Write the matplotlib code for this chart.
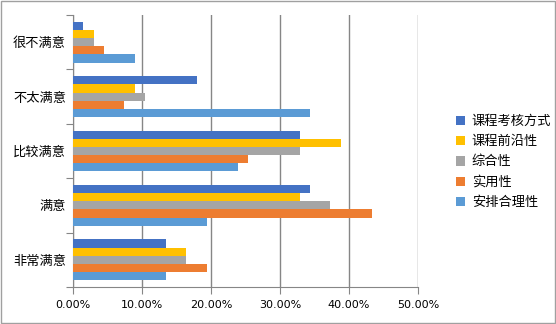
import matplotlib.pyplot as plt
from matplotlib.patches import Rectangle
from matplotlib.ticker import FuncFormatter
import numpy as np

plt.rcParams['font.family'] = ['Noto Sans CJK SC', 'DejaVu Sans']

# satisfaction levels, top to bottom
levels = ['很不满意', '不太满意', '比较满意', '满意', '非常满意']
series = ['课程考核方式', '课程前沿性', '综合性', '实用性', '安排合理性']
colors = ['#4472C4', '#FFC000', '#A5A5A5', '#ED7D31', '#5B9BD5']

# shares in percent, one list per series
kaohe = [1.49, 17.91, 32.84, 34.33, 13.43]
qianyan = [2.99, 8.96, 38.81, 32.84, 16.42]
zonghe = [2.99, 10.45, 32.84, 37.31, 16.42]
shiyong = [4.48, 7.46, 25.37, 43.28, 19.40]
anpai = [8.96, 34.33, 23.88, 19.40, 13.43]
values = [kaohe, qianyan, zonghe, shiyong, anpai]

xticks = [0, 10, 20, 30, 40, 50]

fig = plt.figure(figsize=(5.56, 3.24), dpi=100)
ax = fig.add_axes([73 / 556, 1 - 287 / 324, 345 / 556, 272 / 324])

y = np.arange(len(levels))
h = 0.15
for j, (name, vals) in enumerate(zip(series, values)):
    ax.barh(y + (j - 2) * h, vals, height=h, color=colors[j], label=name, zorder=3)

ax.set_xlim(0, 50)
ax.set_ylim(len(levels) - 0.5, -0.5)
ax.set_xticks(xticks)
ax.xaxis.set_major_formatter(FuncFormatter(lambda v, p: f'{v:.2f}%'))
ax.grid(axis='x', color='#868686', linewidth=1, zorder=0)

ax.set_yticks(np.arange(len(levels) + 1) - 0.5)
ax.set_yticklabels([])
ax.set_yticks(y, minor=True)
ax.set_yticklabels(levels, minor=True, fontsize=9.5)
ax.tick_params(axis='y', which='minor', length=0, pad=5)
ax.tick_params(axis='y', which='major', length=5, color='#868686')
ax.tick_params(axis='x', length=5, color='#868686', labelsize=8, pad=4)
for lab in ax.get_xticklabels():
    lab.set_family('DejaVu Sans')

for s in ['top', 'right']:
    ax.spines[s].set_visible(False)
for s in ['left', 'bottom']:
    ax.spines[s].set_color('#868686')

fig.legend(loc='center left', bbox_to_anchor=(444 / 556, 1 - 162 / 324),
           frameon=False, fontsize=9.5, handlelength=0.7, handleheight=0.7,
           handletextpad=0.5, labelspacing=0.55)

fig.patches.append(Rectangle((0.001, 0.002), 0.997, 0.995, transform=fig.transFigure,
                             fill=False, edgecolor='#A0A0A0', linewidth=1))

fig.savefig('out.png', dpi=100)
